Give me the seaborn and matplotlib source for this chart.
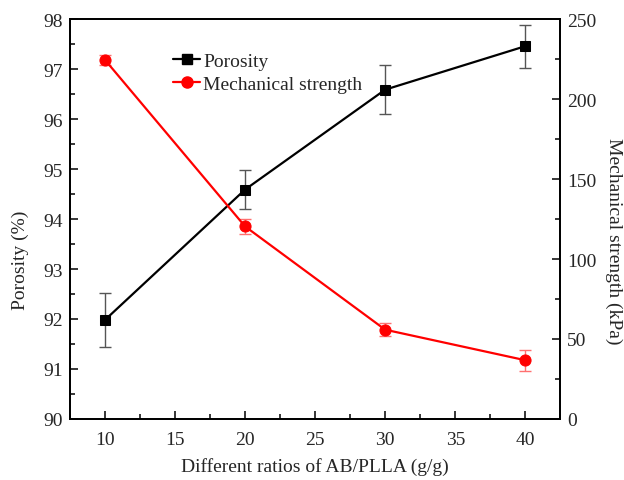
import matplotlib
matplotlib.use("Agg")
import matplotlib.pyplot as plt
import seaborn as sns
import pandas as pd
from matplotlib.ticker import MultipleLocator
from matplotlib.lines import Line2D

sns.set_theme(style="ticks")
plt.rcParams["font.family"] = ["Liberation Serif", "DejaVu Serif"]

# Data
ratios = [10, 20, 30, 40]
porosity = [91.98, 94.59, 96.59, 97.46]
porosity_err = [0.55, 0.39, 0.49, 0.43]
strength = [224.6, 120.4, 55.8, 36.7]
strength_err = [3.0, 4.6, 4.2, 6.7]

df = pd.DataFrame({"ratio": ratios, "porosity": porosity, "strength": strength})

fig, ax = plt.subplots(figsize=(6.24, 4.81), dpi=100)
fig.subplots_adjust(left=0.112, right=0.898, top=0.958, bottom=0.127)
ax2 = ax.twinx()

# Porosity (left axis)
sns.lineplot(data=df, x="ratio", y="porosity", ax=ax, color="black", lw=1.6,
             marker="s", markersize=7, markeredgecolor="black", zorder=3)
ax.errorbar(ratios, porosity, yerr=porosity_err, fmt="none", ecolor="#555555",
            elinewidth=1.0, capsize=4, capthick=1.0, zorder=2)

# Mechanical strength (right axis)
sns.lineplot(data=df, x="ratio", y="strength", ax=ax2, color="red", lw=1.6,
             marker="o", markersize=8, markeredgecolor="red", zorder=3)
ax2.errorbar(ratios, strength, yerr=strength_err, fmt="none", ecolor="#ff7070",
             elinewidth=1.0, capsize=4, capthick=1.0, zorder=2)

ax.set_xlim(7.5, 42.5)
ax.set_ylim(90, 98)
ax2.set_ylim(0, 250)

ax.xaxis.set_major_locator(MultipleLocator(5))
ax.xaxis.set_minor_locator(MultipleLocator(2.5))
ax.yaxis.set_major_locator(MultipleLocator(1))
ax.yaxis.set_minor_locator(MultipleLocator(0.5))
ax2.yaxis.set_major_locator(MultipleLocator(50))
ax2.yaxis.set_minor_locator(MultipleLocator(25))

for a in (ax, ax2):
    a.tick_params(which="major", direction="in", length=6, width=1.3, labelsize=14)
    a.tick_params(which="minor", direction="in", length=3.5, width=1.3)
    for s in a.spines.values():
        s.set_linewidth(1.3)
        s.set_color("black")
ax.tick_params(axis="x", pad=9)
ax.tick_params(axis="y", pad=5)
ax2.tick_params(axis="y", pad=5)
ax.tick_params(axis="x", which="both", top=False)

ax.set_xlabel("Different ratios of AB/PLLA (g/g)", fontsize=14)
ax.set_ylabel("Porosity (%)", fontsize=14, va="center")
ax2.set_ylabel("Mechanical strength (kPa)", fontsize=14, rotation=270, va="center")
ax.xaxis.set_label_coords(0.5, -0.095)
ax.yaxis.set_label_coords(-0.102, 0.40)
ax2.yaxis.set_label_coords(1.108, 0.448)

handles = [
    Line2D([], [], color="black", lw=1.6, marker="s", markersize=7),
    Line2D([], [], color="red", lw=1.6, marker="o", markersize=8),
]
ax.legend(handles, ["Porosity", "Mechanical strength"], loc="upper left",
          bbox_to_anchor=(0.175, 0.96), frameon=False, fontsize=14,
          handlelength=1.4, handletextpad=0.15, labelspacing=0.25)

fig.savefig("out.png", dpi=100)
